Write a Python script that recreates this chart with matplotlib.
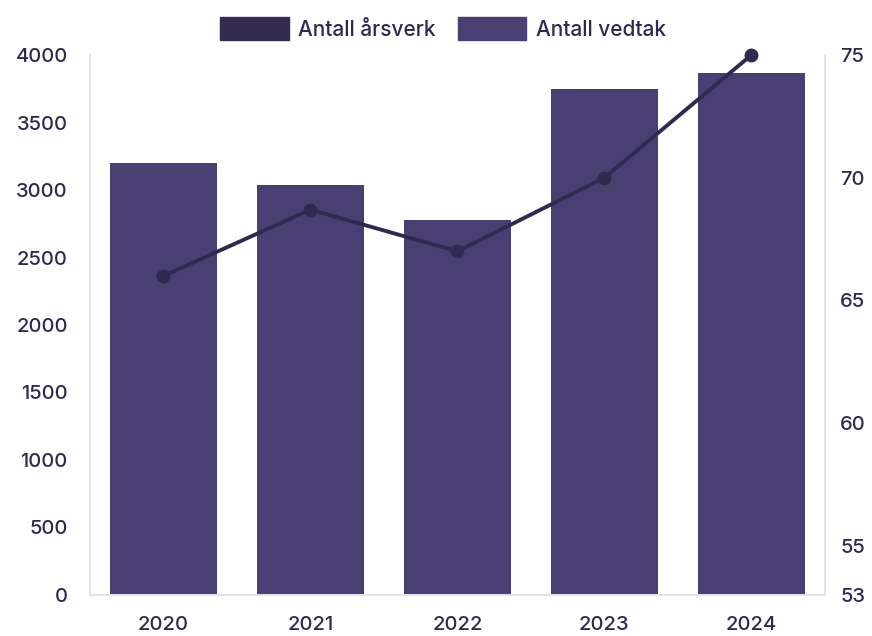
import matplotlib.pyplot as plt
from matplotlib.patches import Patch

plt.rcParams['font.family'] = ['Inter', 'DejaVu Sans']
plt.rcParams['font.weight'] = 'medium'

years = ['2020', '2021', '2022', '2023', '2024']
vedtak = [3200, 3040, 2780, 3750, 3865]
aarsverk = [66.0, 68.7, 67.0, 70.0, 75.0]

bar_col = '#4a3f73'
line_col = '#2f2a50'
txt_col = '#2e2a4f'
spine_col = '#e4e4e8'

fig = plt.figure(figsize=(8.72, 6.36), dpi=100)
ax = fig.add_axes([0.1032, 0.0645, 0.8428, 0.849])
x = range(len(years))
ax.bar(x, vedtak, width=0.73, color=bar_col, zorder=2)
ax.set_xlim(-0.5, 4.5)
ax.set_ylim(0, 4000)
ax.set_yticks(range(0, 4001, 500))
ax.set_xticks(list(x))
ax.set_xticklabels(years)

ax2 = ax.twinx()
ax2.plot(x, aarsverk, color=line_col, lw=2.8, marker='o', ms=9, zorder=3, clip_on=False)
ax2.set_ylim(53, 75)
ax2.set_yticks([53, 55, 60, 65, 70, 75])

for a in (ax, ax2):
    a.spines['top'].set_visible(False)
    for s in ['left', 'right', 'bottom']:
        a.spines[s].set_color(spine_col)
        a.spines[s].set_linewidth(1.2)
    a.tick_params(length=0, labelsize=14.5, labelcolor=txt_col)
ax.tick_params(axis='y', pad=16)
ax.tick_params(axis='x', pad=15)
ax2.tick_params(axis='y', pad=11)

handles = [Patch(color='#332b52', label='Antall årsverk'),
           Patch(color=bar_col, label='Antall vedtak')]
fig.legend(handles=handles, loc='center', bbox_to_anchor=(0.508, 0.955), ncol=2,
           frameon=False, fontsize=15, labelcolor=txt_col,
           handlelength=3.3, handleheight=1.3, handletextpad=0.45, columnspacing=1.05)

fig.savefig('out.png', dpi=100)
